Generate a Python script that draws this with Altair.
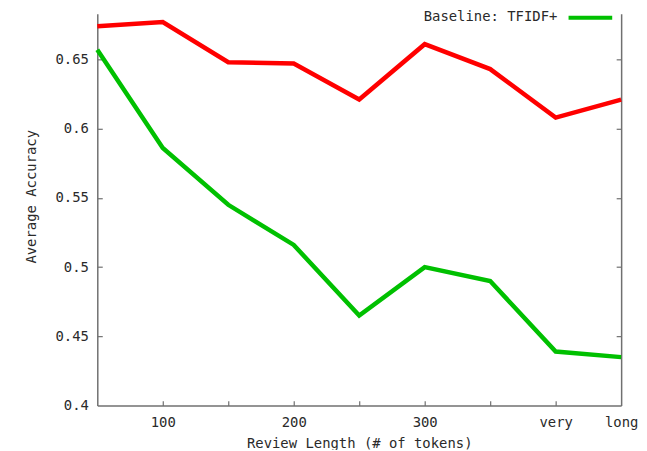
import altair as alt
import pandas as pd

# ---- data ----
x_vals = [50, 100, 150, 200, 250, 300, 350, 400, 450]
red_vals = [0.674, 0.677, 0.648, 0.647, 0.621, 0.661, 0.643, 0.608, 0.621]
green_vals = [0.657, 0.586, 0.545, 0.516, 0.465, 0.500, 0.490, 0.439, 0.435]
red_name = "Proposed"
green_name = "Baseline: TFIDF+"

x_label_values = [100, 200, 300, 400, 450]
x_label_texts = ["100", "200", "300", "very", "long"]
x_tick_values = [100, 150, 200, 250, 300, 350, 400]
y_label_values = [0.4, 0.45, 0.5, 0.55, 0.6, 0.65]
y_tick_values = [0.45, 0.5, 0.55, 0.6, 0.65]

df = pd.DataFrame({
    "x": x_vals + x_vals,
    "y": red_vals + green_vals,
    "series": [red_name] * len(x_vals) + [green_name] * len(x_vals),
})

W, H = 528, 395
FONT = "DejaVu Sans Mono"
TXT = "#2a2a2a"
AX = "#707070"

label_expr = "datum.label"
for v, t in zip(reversed(x_label_values), reversed(x_label_texts)):
    label_expr = f"datum.value == {v} ? '{t}' : ({label_expr})"

xscale = alt.Scale(domain=[50, 450], nice=False, zero=False)
yscale = alt.Scale(domain=[0.4, 0.683], nice=False, zero=False)

lines = alt.Chart(df).mark_line(strokeWidth=4.5).encode(
    x=alt.X("x:Q", scale=xscale, axis=alt.Axis(
        orient="bottom", values=x_label_values, labelExpr=label_expr,
        labelFlush=False, labelOverlap=False,
        tickSize=0, labelPadding=10, grid=False, domain=True,
        title="Review Length (# of tokens)", titleY=38, titleBaseline="middle")),
    y=alt.Y("y:Q", scale=yscale, axis=alt.Axis(
        orient="left", values=y_label_values, format="~g",
        labelFlush=False, labelOverlap=False,
        tickSize=0, labelPadding=9, grid=False, domain=True,
        title="Average Accuracy", titleX=-66, titleY=184, titleBaseline="middle")),
    color=alt.Color("series:N",
        scale=alt.Scale(domain=[red_name, green_name], range=["#ff0000", "#00c000"]),
        legend=alt.Legend(
            values=[green_name], orient="none", legendX=329, legendY=-20,
            title=green_name, titleOrient="left", titlePadding=9,
            titleAnchor="middle", titleBaseline="top",
            titleFont=FONT, titleFontSize=14, titleFontWeight="normal", titleColor=TXT,
            labelExpr="''", labelOffset=0,
            symbolType="stroke", symbolSize=1936, symbolStrokeWidth=4, padding=0)),
    order="x:Q",
)

inner_ticks = alt.Chart(df).mark_point(opacity=0).encode(
    x=alt.X("x:Q", scale=xscale, axis=alt.Axis(
        orient="top", offset=-H, values=x_tick_values, labels=False,
        domain=False, tickSize=5, grid=False, title=None)),
    y=alt.Y("y:Q", scale=yscale, axis=alt.Axis(
        orient="right", offset=-W, values=y_tick_values, labels=False,
        domain=False, tickSize=5, grid=False, title=None)),
)

right_border = alt.Chart(df).mark_point(opacity=0).encode(
    x=alt.X("x:Q", scale=xscale, axis=None),
    y=alt.Y("y:Q", scale=yscale, axis=alt.Axis(
        orient="left", offset=-W, values=y_tick_values, labels=False,
        domain=True, tickSize=5, grid=False, title=None)),
)

chart = alt.layer(lines, inner_ticks, right_border).resolve_scale(
    x="independent", y="independent"
).resolve_axis(x="independent", y="independent").properties(
    width=W, height=H,
    autosize=alt.AutoSizeParams(type="none"),
    padding={"left": 90, "top": 4, "right": 18, "bottom": 43},
    background="white",
).configure_view(stroke=None).configure_axis(
    labelFont=FONT, labelFontSize=14, labelColor=TXT,
    titleFont=FONT, titleFontSize=14, titleColor=TXT, titleFontWeight="normal",
    domainColor=AX, domainWidth=1.5, tickColor=AX, tickWidth=1.2,
)

chart.save("out.html", embed_options={"renderer": "svg", "actions": False})
